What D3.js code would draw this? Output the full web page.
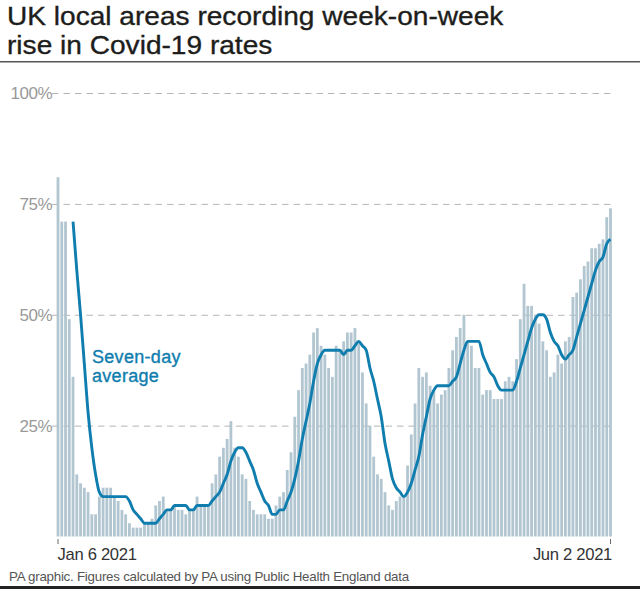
<!DOCTYPE html>
<html>
<head>
<meta charset="utf-8">
<script src="https://cdn.jsdelivr.net/npm/d3@7"></script>
<style>
    html, body { margin: 0; padding: 0; background: #fff; }
    svg { display: block; }
    text { font-family: "Liberation Sans", Arial, sans-serif; }
</style>
</head>
<body>
<div id="chart"></div>
<script>
// 数据
const startDate = "Jan 6 2021";
const endDate = "Jun 2 2021";
const titleLines = ["UK local areas recording week-on-week", "rise in Covid-19 rates"];
const sourceText = "PA graphic. Figures calculated by PA using Public Health England data";
const lineLabel = ["Seven-day", "average"];
const yTicks = [25, 50, 75, 100];

// 每日柱状图数值
const dailyValues = [
    81, 71, 71, 49, 36, 14, 12, 11, 10, 5, 5, 9, 11, 11, 11, 9, 8, 6, 5, 3,
    2, 2, 2, 3, 3, 4, 7, 8, 9, 6, 6, 7, 6, 6, 5, 6, 6, 9, 7, 7,
    7, 12, 14, 18, 20, 22, 26, 20, 18, 14, 13, 8, 6, 5, 5, 5, 4, 4, 7, 9,
    10, 15, 19, 27, 33, 38, 39, 41, 46, 47, 43, 41, 38, 36, 43, 42, 44, 46, 46, 47,
    44, 37, 30, 25, 18, 14, 13, 10, 7, 6, 8, 9, 9, 16, 23, 30, 38, 36, 37, 34,
    33, 30, 32, 33, 38, 42, 45, 47, 50, 44, 43, 38, 38, 32, 33, 33, 31, 31, 31, 35,
    36, 35, 40, 49, 57, 52, 52, 50, 48, 44, 42, 36, 37, 41, 39, 44, 45, 54, 55, 58,
    61, 62, 65, 65, 66, 67, 72, 74
];

// 七日平均值
const averageValues = [
    null, null, null, null, 71, 60, 50, 39, 28, 20, 14, 10, 9, 9, 9, 9, 9, 9, 9, 8,
    6, 5, 4, 3, 3, 3, 3, 4, 5, 6, 6, 7, 7, 7, 7, 6, 6, 7, 7, 7,
    7, 8, 9, 10, 12, 14, 17, 19, 20, 20, 19, 17, 15, 12, 10, 8, 7, 5, 5, 6,
    6, 8, 10, 13, 17, 22, 26, 30, 35, 39, 41, 42, 42, 42, 42, 42, 41, 42, 42, 43,
    44, 43, 42, 38, 35, 31, 27, 21, 17, 13, 11, 10, 9, 10, 12, 15, 18, 23, 27, 31,
    33, 34, 34, 34, 34, 35, 36, 39, 42, 44, 44, 44, 44, 41, 39, 37, 36, 34, 33, 33,
    33, 33, 35, 38, 41, 44, 47, 49, 50, 50, 49, 46, 44, 43, 41, 40, 41, 42, 45, 48,
    51, 54, 57, 60, 62, 63, 66, 67
];

const width = 640, height = 589;

const svg = d3.select("#chart").append("svg")
    .attr("width", width)
    .attr("height", height);

// 比例尺
const x = d3.scaleLinear().domain([0, dailyValues.length - 1]).range([58, 610.5]);
const y = d3.scaleLinear().domain([0, 100]).range([536.5, 93]);

// 标题（字体横向略拉宽）
svg.append("g")
    .attr("transform", "translate(7, 0) scale(1.06, 1)")
    .selectAll("text")
    .data(titleLines)
    .enter().append("text")
    .attr("x", 0)
    .attr("y", (d, i) => 25 + i * 29)
    .attr("font-size", 26.5)
    .attr("fill", "#1d1d1b")
    .attr("stroke", "#1d1d1b")
    .attr("stroke-width", 0.35)
    .text(d => d);

// 标题下方分隔线
svg.append("rect").attr("x", 0).attr("y", 61).attr("width", width).attr("height", 1.5).attr("fill", "#555");

// Y轴和网格线
const yAxis = svg.append("g")
    .attr("transform", "translate(52, 0)")
    .call(d3.axisRight(y).tickValues(yTicks).tickSize(559).tickFormat(d => d + "%"));
yAxis.select(".domain").remove();
yAxis.selectAll("line")
    .attr("stroke", "#b5b5b5")
    .attr("stroke-dasharray", "6.5 5");
yAxis.selectAll("text")
    .attr("x", 0)
    .attr("dx", 0)
    .attr("text-anchor", "end")
    .attr("font-size", 17)
    .attr("letter-spacing", -0.5)
    .attr("font-weight", 300)
    .attr("fill", "#999")
    .attr("font-family", "Inter");

// 柱状图
svg.append("g").selectAll("rect")
    .data(dailyValues)
    .enter().append("rect")
    .attr("x", (d, i) => x(i) - 1.4)
    .attr("y", d => y(d))
    .attr("width", 2.8)
    .attr("height", d => y(0) - y(d))
    .attr("fill", "#aec3cf")
    .attr("fill-opacity", 0.95);

// 平均线
const line = d3.line()
    .defined(d => d !== null)
    .x((d, i) => x(i))
    .y(d => y(d))
    .curve(d3.curveMonotoneX);

svg.append("path")
    .datum(averageValues)
    .attr("fill", "none")
    .attr("stroke", "#0f7dae")
    .attr("stroke-width", 2.9)
    .attr("d", line);

// 平均线标注
svg.append("g").selectAll("text")
    .data(lineLabel)
    .enter().append("text")
    .attr("x", 92)
    .attr("y", (d, i) => 363 + i * 18.5)
    .attr("font-size", 18)
    .attr("letter-spacing", 0.3)
    .attr("fill", "#0f7dae")
    .attr("stroke", "#0f7dae")
    .attr("stroke-width", 0.35)
    .text(d => d);

// X轴刻度和标签
const xEnds = [0, dailyValues.length - 1];
svg.append("g").selectAll("line")
    .data(xEnds)
    .enter().append("line")
    .attr("x1", d => x(d))
    .attr("x2", d => x(d))
    .attr("y1", 539)
    .attr("y2", 544)
    .attr("stroke", "#444")
    .attr("stroke-width", 0.8);

svg.append("text")
    .attr("x", x(0) - 0.5)
    .attr("y", 560)
    .attr("font-size", 16.6)
    .attr("letter-spacing", -0.3)
    .attr("fill", "#333")
    .text(startDate);

svg.append("text")
    .attr("x", x(147) + 1.5)
    .attr("y", 560)
    .attr("text-anchor", "end")
    .attr("font-size", 16.6)
    .attr("letter-spacing", -0.3)
    .attr("fill", "#333")
    .text(endDate);

// 来源
svg.append("text")
    .attr("x", 9)
    .attr("y", 581)
    .attr("font-size", 13.35)
    .attr("letter-spacing", -0.25)
    .attr("fill", "#555")
    .text(sourceText);

// 底部黑条
svg.append("rect").attr("x", 0).attr("y", 586).attr("width", width).attr("height", 3).attr("fill", "#222");
</script>
</body>
</html>
